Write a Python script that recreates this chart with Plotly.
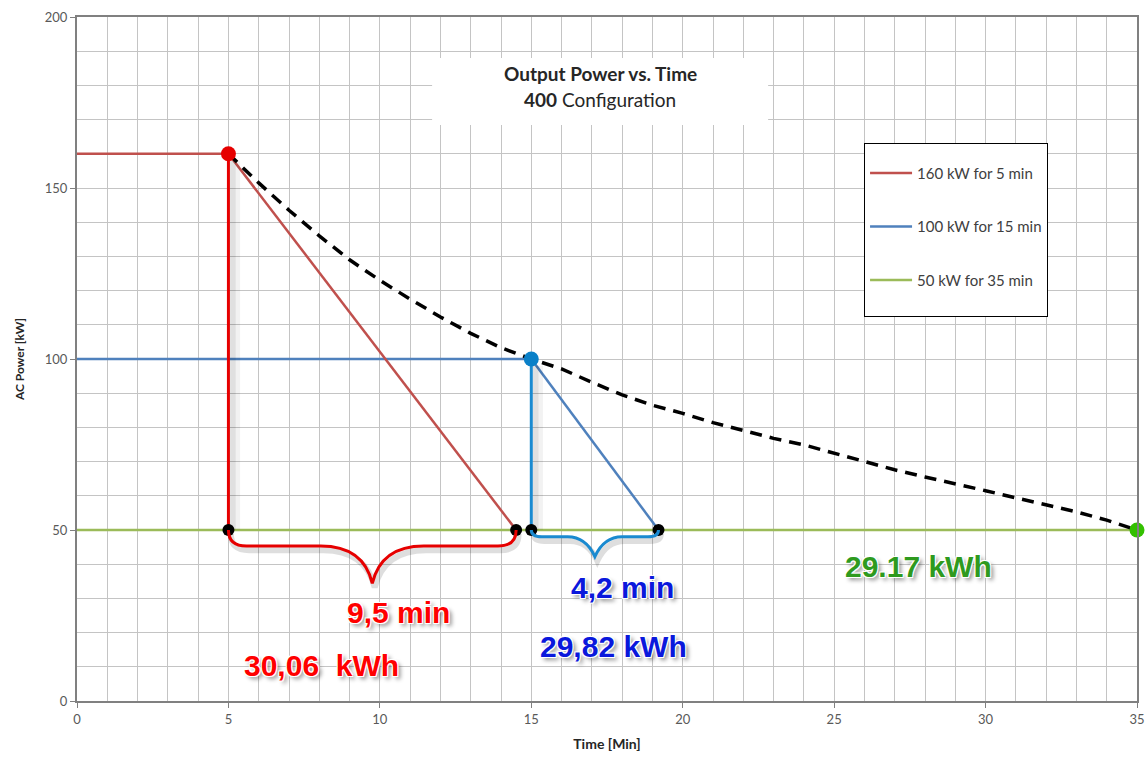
import plotly.graph_objects as go

# --- power levels and their hold times ---------------------------------
P_HIGH, T_HIGH = 160, 5          # 160 kW held for 5 min
P_MID, T_MID = 100, 15           # 100 kW held for 15 min
P_LOW, T_END = 50, 35            # 50 kW held for 35 min

# ramp-down end points (time where each ramp reaches 50 kW)
RED_RAMP_END = 14.5
BLUE_RAMP_END = 19.2

# derating curve (dashed), read per minute
curve_t = [5, 6, 7, 8, 9, 10, 11, 12, 13, 14, 15, 16, 17, 18, 19, 20,
           21, 22, 23, 24, 25, 26, 27, 28, 29, 30, 31, 32, 33, 34, 35]
curve_p = [160, 151.5, 143.5, 136, 129, 123, 117.5, 112.3, 107.5, 103.3, 100,
           97.1, 93.2, 89.5, 86.5, 84.1, 81.4, 79, 76.8, 74.9, 72.4,
           70, 67.6, 65.5, 63.6, 61.5, 59.4, 57.4, 55.3, 52.9, 50]

# text labels
red_duration = "9,5 min"
red_energy = "30,06  kWh"
blue_duration = "4,2 min"
blue_energy = "29,82 kWh"
green_energy = "29.17 kWh"

legend_names = ["160 kW for 5 min", "100 kW for 15 min", "50 kW for 35 min"]

# --- colours ------------------------------------------------------------
C_RED_SER = "#c0504d"
C_BLUE_SER = "#4f81bd"
C_GREEN_SER = "#9bbb59"
C_RED = "#e60000"
C_BLUE = "#1a8ad0"
C_GREEN_DOT = "#33c000"
TXT_RED = "#ff0000"
TXT_BLUE = "#0a18dc"
TXT_GREEN = "#2e9a1e"

fig = go.Figure()

# constant-power series (legend entries)
fig.add_trace(go.Scatter(x=[0, T_HIGH], y=[P_HIGH, P_HIGH], mode="lines",
                         name=legend_names[0], legendgroup="a", legendrank=1,
                         line=dict(color=C_RED_SER, width=2.5)))
fig.add_trace(go.Scatter(x=[0, T_MID], y=[P_MID, P_MID], mode="lines",
                         name=legend_names[1], legendgroup="b", legendrank=2,
                         line=dict(color=C_BLUE_SER, width=2.5)))
fig.add_trace(go.Scatter(x=[0, T_END], y=[P_LOW, P_LOW], mode="lines",
                         name=legend_names[2] + "<br>&nbsp;", legendgroup="c", legendrank=3,
                         line=dict(color=C_GREEN_SER, width=2.5)))

# ramps from each power level down to 50 kW
fig.add_trace(go.Scatter(x=[T_HIGH, RED_RAMP_END], y=[P_HIGH, P_LOW], mode="lines",
                         showlegend=False, line=dict(color=C_RED_SER, width=2.5)))
fig.add_trace(go.Scatter(x=[T_MID, BLUE_RAMP_END], y=[P_MID, P_LOW], mode="lines",
                         showlegend=False, line=dict(color=C_BLUE_SER, width=2.5)))

# derating curve
fig.add_trace(go.Scatter(x=curve_t, y=curve_p, mode="lines", showlegend=False,
                         line=dict(color="black", width=3.5, dash="12px,8px")))

# soft shadows behind the vertical drop lines
for t0, p0 in [(T_HIGH, P_HIGH), (T_MID, P_MID)]:
    for off, w, a in [(0.22, 10, 0.05), (0.14, 6, 0.07)]:
        fig.add_trace(go.Scatter(x=[t0 + off, t0 + off], y=[p0 - 2, P_LOW], mode="lines",
                                 showlegend=False, hoverinfo="skip",
                                 line=dict(color=f"rgba(0,0,0,{a})", width=w)))

# vertical drop lines
fig.add_trace(go.Scatter(x=[T_HIGH, T_HIGH], y=[P_HIGH, P_LOW], mode="lines",
                         showlegend=False, line=dict(color=C_RED, width=3)))
fig.add_trace(go.Scatter(x=[T_MID, T_MID], y=[P_MID, P_LOW], mode="lines",
                         showlegend=False, line=dict(color=C_BLUE, width=3)))

# markers
fig.add_trace(go.Scatter(x=[T_HIGH, RED_RAMP_END, T_MID, BLUE_RAMP_END],
                         y=[P_LOW] * 4, mode="markers", showlegend=False,
                         cliponaxis=False,
                         marker=dict(color="black", size=12)))
fig.add_trace(go.Scatter(x=[T_HIGH, T_MID, T_END], y=[P_HIGH, P_MID, P_LOW],
                         mode="markers", showlegend=False, cliponaxis=False,
                         marker=dict(color=[C_RED, "#0a80c8", C_GREEN_DOT], size=15)))


def brace_path(x0, x1, y0, y_flat, y_tip, dx_corner, dx_arm):
    """Curly brace hanging below the span x0..x1 (data coordinates)."""
    xm = (x0 + x1) / 2
    return (f"M {x0},{y0} Q {x0},{y_flat} {x0 + dx_corner},{y_flat} "
            f"L {xm - dx_arm},{y_flat} "
            f"Q {xm - 0.3},{y_flat} {xm},{y_tip} "
            f"Q {xm + 0.3},{y_flat} {xm + dx_arm},{y_flat} "
            f"L {x1 - dx_corner},{y_flat} "
            f"Q {x1},{y_flat} {x1},{y0}")


braces = [
    (T_HIGH, RED_RAMP_END, 45.3, 34.4, 0.6, 1.7, C_RED),
    (T_MID, BLUE_RAMP_END, 48.0, 42.2, 0.35, 0.9, C_BLUE),
]
for x0, x1, yf, yt, dc, da, col in braces:
    fig.add_shape(type="path", xref="x", yref="y", layer="above",
                  path=brace_path(x0 + 0.08, x1 + 0.08, P_LOW - 1.2, yf - 1.2, yt - 1.2, dc, da),
                  line=dict(color="rgba(0,0,0,0.13)", width=6))
    fig.add_shape(type="path", xref="x", yref="y", layer="above",
                  path=brace_path(x0, x1, P_LOW, yf, yt, dc, da),
                  line=dict(color=col, width=3))

# text labels with a white halo and grey drop shadow
halo = ("-1px -1px 0 #fff, 1px -1px 0 #fff, -1px 1px 0 #fff, 1px 1px 0 #fff, "
        "3px 3px 4px rgba(0,0,0,0.45)")
labels = [
    (10.63, 26.0, red_duration, TXT_RED),
    (8.06, 10.5, red_energy, TXT_RED),
    (18.0, 33.3, blue_duration, TXT_BLUE),
    (17.7, 15.8, blue_energy, TXT_BLUE),
    (27.77, 39.2, green_energy, TXT_GREEN),
]
for x, y, txt, col in labels:
    fig.add_annotation(x=x, y=y, xref="x", yref="y", text=f"<b>{txt}</b>",
                       showarrow=False, xanchor="center", yanchor="middle",
                       font=dict(family="Liberation Sans, Arial", size=30,
                                 color=col, shadow=halo))

# chart title on a white panel
fig.add_shape(type="rect", xref="paper", yref="paper",
              x0=0.335, x1=0.652, y0=0.842, y1=0.94,
              fillcolor="white", line=dict(width=0), layer="above")
title_font = dict(family="Lato", size=19, color="#262626")
fig.add_annotation(xref="paper", yref="paper", x=0.4935, y=0.918,
                   xanchor="center", yanchor="middle",
                   text="<b>Output Power vs. Time</b>", showarrow=False,
                   font=title_font)
fig.add_annotation(xref="paper", yref="paper", x=0.4935, y=0.880,
                   xanchor="center", yanchor="middle",
                   text="<b>400</b> Configuration", showarrow=False,
                   font=title_font)

axis_common = dict(
    showline=True, linecolor="#808080", linewidth=2, mirror=True,
    showgrid=True, gridcolor="#c4c4c4", gridwidth=1,
    ticks="outside", ticklen=5, tickcolor="#808080",
    tickfont=dict(family="Lato", size=13, color="#595959"),
    zeroline=False, automargin=False,
)

fig.update_xaxes(range=[0, 35], dtick=5, tick0=0,
                 minor=dict(dtick=1, showgrid=True, gridcolor="#c4c4c4", ticks=""),
                 title=dict(text="<b>Time [Min]</b>", standoff=14,
                            font=dict(family="Lato", size=14, color="#262626")),
                 **axis_common)
fig.update_yaxes(range=[0, 200], dtick=50, tick0=0,
                 minor=dict(dtick=10, showgrid=True, gridcolor="#c4c4c4", ticks=""),
                 title=dict(text="<b>AC Power [kW]</b>", standoff=18,
                            font=dict(family="Lato", size=12, color="#262626")),
                 **axis_common)

fig.update_layout(
    width=1145, height=761,
    margin=dict(l=77, r=8, t=17, b=60),
    paper_bgcolor="white", plot_bgcolor="white",
    legend=dict(x=0.7425, y=0.816, xanchor="left", yanchor="top",
                bgcolor="white", bordercolor="black", borderwidth=1,
                font=dict(family="Lato", size=15, color="#404040"),
                tracegroupgap=31, traceorder="grouped", itemwidth=42,
                valign="top",
                title=dict(text=" ", font=dict(size=10))),
    showlegend=True,
)

fig.write_html("out.html")
